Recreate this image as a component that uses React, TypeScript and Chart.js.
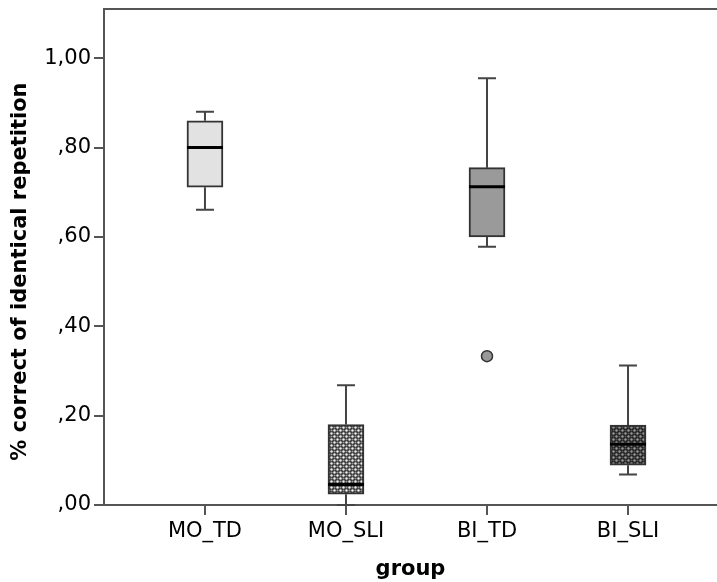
import React, { useEffect, useRef } from 'react';
import { Chart, registerables } from 'chart.js';

Chart.register(...registerables);

const categories = ['MO_TD', 'MO_SLI', 'BI_TD', 'BI_SLI'];
const whiskerLow = [0.661, 0.0, 0.578, 0.068];
const q1 = [0.711, 0.024, 0.6, 0.089];
const median = [0.8, 0.046, 0.712, 0.136];
const q3 = [0.86, 0.18, 0.755, 0.179];
const whiskerHigh = [0.88, 0.268, 0.955, 0.312];
const outlierGroup = [2];
const outlierValue = [0.333];
const yTickValues = [0, 0.2, 0.4, 0.6, 0.8, 1.0];
const yTitle = '% correct of identical repetition';
const xTitle = 'group';

function makePattern(bg: string, dotA: string, dotB: string) {
  const c = document.createElement('canvas');
  c.width = 6;
  c.height = 6;
  const g = c.getContext('2d')!;
  g.fillStyle = bg;
  g.fillRect(0, 0, 6, 6);
  g.fillStyle = dotA;
  g.beginPath();
  g.arc(1.5, 1.5, 1.3, 0, Math.PI * 2);
  g.arc(4.5, 4.5, 1.3, 0, Math.PI * 2);
  g.fill();
  g.fillStyle = dotB;
  g.beginPath();
  g.arc(4.5, 1.5, 1.1, 0, Math.PI * 2);
  g.arc(1.5, 4.5, 1.1, 0, Math.PI * 2);
  g.fill();
  return g.createPattern(c, 'repeat') as CanvasPattern;
}

const boxPlugin = {
  id: 'boxParts',
  beforeDatasetsDraw(chart: any) {
    const { ctx, scales } = chart;
    const xs = scales.x;
    const ys = scales.y;
    ctx.save();
    ctx.strokeStyle = '#444';
    ctx.lineWidth = 2;
    categories.forEach((_, i) => {
      const x = xs.getPixelForValue(i);
      const pairs = [
        [whiskerHigh[i], q3[i]],
        [whiskerLow[i], q1[i]],
      ];
      pairs.forEach(([w, q]) => {
        const yw = ys.getPixelForValue(w);
        const yq = ys.getPixelForValue(q);
        ctx.beginPath();
        ctx.moveTo(x, yw);
        ctx.lineTo(x, yq);
        ctx.moveTo(x - 9, yw);
        ctx.lineTo(x + 9, yw);
        ctx.stroke();
      });
    });
    ctx.restore();
  },
  afterDatasetsDraw(chart: any) {
    const { ctx, scales, chartArea } = chart;
    const xs = scales.x;
    const ys = scales.y;
    const meta = chart.getDatasetMeta(0);
    ctx.save();
    ctx.strokeStyle = '#000';
    ctx.lineWidth = 3;
    categories.forEach((_, i) => {
      const x = xs.getPixelForValue(i);
      const half = (meta.data[i] && meta.data[i].width ? meta.data[i].width : 36) / 2;
      const y = ys.getPixelForValue(median[i]);
      ctx.beginPath();
      ctx.moveTo(x - half, y);
      ctx.lineTo(x + half, y);
      ctx.stroke();
    });
    ctx.strokeStyle = '#555';
    ctx.lineWidth = 2;
    ctx.beginPath();
    ctx.moveTo(chartArea.left, chartArea.top);
    ctx.lineTo(chart.width, chartArea.top);
    ctx.stroke();
    ctx.restore();
  },
};

export default function App() {
  const ref = useRef<HTMLCanvasElement>(null);
  useEffect(() => {
    const canvas = ref.current!;
    const ctx = canvas.getContext('2d')!;
    const patLight = makePattern('#2e2e2e', '#f0f0f0', '#9a9a9a');
    const patDark = makePattern('#1e1e1e', '#9a9a9a', '#555555');
    const boxColors: any[] = ['#e2e2e2', patLight, '#9a9a9a', patDark];
    const chart = new Chart(ctx, {
      type: 'bar',
      data: {
        datasets: [
          {
            type: 'bar',
            data: categories.map((_, i) => ({ x: i, y: [q1[i], q3[i]] })) as any,
            backgroundColor: boxColors,
            borderColor: '#333',
            borderWidth: 2,
            borderSkipped: false,
            barThickness: 36,
          } as any,
          {
            type: 'scatter',
            data: outlierGroup.map((g, k) => ({ x: g, y: outlierValue[k] })),
            pointRadius: 5.5,
            pointBackgroundColor: '#999',
            pointBorderColor: '#333',
            pointBorderWidth: 1.5,
          } as any,
        ],
      },
      options: {
        responsive: false,
        animation: false,
        layout: { autoPadding: false, padding: { top: 9, left: 0, right: 0, bottom: 0 } },
        plugins: { legend: { display: false }, tooltip: { enabled: false } },
        scales: {
          x: {
            type: 'linear',
            offset: false,
            min: -0.716,
            max: 3.631,
            afterBuildTicks: (s: any) => {
              s.ticks = categories.map((_, i) => ({ value: i }));
            },
            afterFit: (s: any) => {
              s.height = 77;
              s.paddingLeft = 0;
              s.paddingRight = 0;
            },
            ticks: {
              autoSkip: false,
              maxRotation: 0,
              padding: 4,
              color: '#000',
              font: { family: 'DejaVu Sans', size: 21 },
              callback: (v: any) => categories[v] ?? '',
            },
            grid: {
              offset: false,
              drawOnChartArea: false,
              drawTicks: true,
              tickLength: 10,
              color: '#555',
              lineWidth: 2,
            },
            border: { display: true, color: '#555', width: 2 },
            title: {
              display: true,
              text: xTitle,
              color: '#000',
              font: { family: 'DejaVu Sans', size: 21, weight: 'bold' },
              padding: { top: 6, bottom: 0 },
            },
          },
          y: {
            type: 'linear',
            min: 0,
            max: 1.11,
            afterBuildTicks: (s: any) => {
              s.ticks = yTickValues.map((v) => ({ value: v }));
            },
            afterFit: (s: any) => {
              s.width = 104;
              s.paddingTop = 0;
              s.paddingBottom = 0;
            },
            ticks: {
              padding: 3,
              color: '#000',
              font: { family: 'DejaVu Sans', size: 21 },
              callback: (v: any) => Number(v).toFixed(2).replace('.', ',').replace(/^0/, ''),
            },
            grid: {
              drawOnChartArea: false,
              drawTicks: true,
              tickLength: 10,
              color: '#555',
              lineWidth: 2,
            },
            border: { display: true, color: '#555', width: 2 },
            title: {
              display: true,
              text: yTitle + '    ',
              color: '#000',
              font: { family: 'DejaVu Sans', size: 21, weight: 'bold' },
              padding: { top: 8, bottom: 4 },
            },
          },
        },
      },
      plugins: [boxPlugin],
    });
    return () => chart.destroy();
  }, []);
  return (
    <div style={{ position: 'absolute', left: 0, top: 0, width: 717, height: 582, background: '#fff' }}>
      <canvas ref={ref} width={717} height={582} />
    </div>
  );
}
